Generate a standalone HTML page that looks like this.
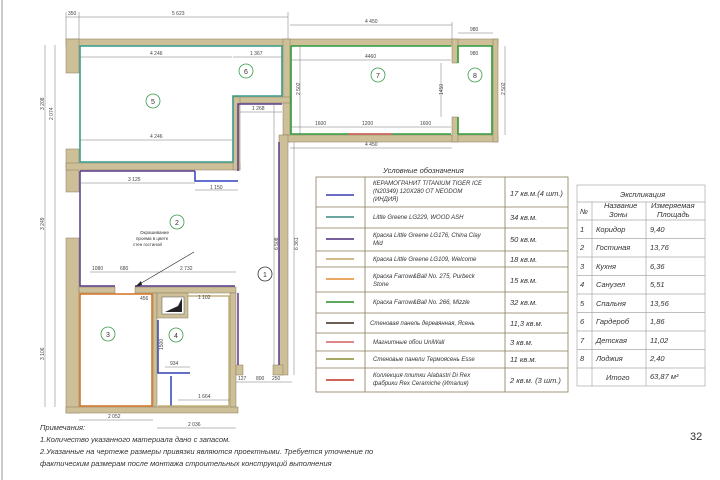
<!DOCTYPE html>
<html><head><meta charset="utf-8"><style>
html,body{margin:0;padding:0;background:#fff;}
svg{display:block;font-family:"Liberation Sans",sans-serif;}
.d{stroke:#777;stroke-width:.5;fill:none}
.t{font-size:5px;fill:#444}
.w{fill:#cdbf98;stroke:#8a7d5c;stroke-width:.5}
.lg{font-size:6px;font-style:italic;fill:#333}
.lq{font-size:7.5px;font-style:italic;fill:#333}
.ex{font-size:7.5px;font-style:italic;fill:#333}
</style></head><body>
<svg width="720" height="480" viewBox="0 0 720 480" xmlns="http://www.w3.org/2000/svg">
<line x1="2" y1="0" x2="2" y2="480" stroke="#999" stroke-width="1"/>
<rect class="w" x="66" y="39" width="432" height="7"/>
<rect class="w" x="66" y="39" width="13" height="34"/>
<rect class="w" x="66" y="149" width="13" height="43"/>
<rect class="w" x="66" y="163" width="174" height="7"/>
<rect class="w" x="283" y="39" width="7" height="103"/>
<rect class="w" x="283" y="135" width="215" height="7"/>
<rect class="w" x="493" y="39" width="5" height="103"/>
<rect class="w" x="452" y="39" width="6" height="24"/>
<rect class="w" x="452" y="117" width="6" height="25"/>
<rect class="w" x="233" y="97" width="57" height="6"/>
<rect class="w" x="233" y="97" width="7" height="73"/>
<rect class="w" x="279" y="135" width="9" height="240"/>
<rect class="w" x="66" y="238" width="13" height="175"/>
<rect class="w" x="79" y="287" width="36" height="6"/>
<rect class="w" x="135" y="287" width="101" height="6"/>
<rect class="w" x="153" y="293" width="4" height="114"/>
<rect class="w" x="157" y="293" width="31" height="25"/>
<rect class="w" x="230" y="293" width="6" height="114"/>
<rect class="w" x="66" y="407" width="172" height="6"/>
<rect class="w" x="236" y="365" width="7" height="10"/>
<rect class="w" x="273" y="365" width="10" height="10"/>
<rect x="162" y="297" width="22" height="17" fill="#fff" stroke="#555" stroke-width=".5"/>
<polygon points="165,312 182,312 182,298 178,306" fill="#222"/>
<path d="M80,46 H282 V96 H233 V162 H80 Z" fill="none" stroke="#3a9a8a" stroke-width="1.6"/>
<path d="M291,46 H451 M291,46 V134 H451 M458,63 V46 H492 V134 H458 V117" fill="none" stroke="#2e9a3a" stroke-width="1.6"/>
<line x1="348" y1="134" x2="392" y2="134" stroke="#e06060" stroke-width="1.6"/>
<path d="M80,171 V286 H115 M135,286 H235 M80,171 H195 M238,171 V104 H282 M279,142 V365 M238,293 V365" fill="none" stroke="#5a3a8a" stroke-width="1.5"/>
<path d="M195,171 V181 H238" fill="none" stroke="#3040c0" stroke-width="1.5"/>
<path d="M80,294 H152 V406 H80 Z" fill="none" stroke="#d07020" stroke-width="1.5"/>
<path d="M158,320 V373 H190 M171,376 V406" fill="none" stroke="#3040b0" stroke-width="1.5"/>
<path d="M188,296 H229 V406 M158,406 H229" fill="none" stroke="#b8a060" stroke-width="1.2"/>
<g class="d">
<line x1="66" y1="17" x2="288" y2="17"/><line x1="66" y1="12" x2="66" y2="39"/><line x1="79" y1="12" x2="79" y2="39"/><line x1="288" y1="12" x2="288" y2="39"/>
<line x1="290" y1="25" x2="452" y2="25"/><line x1="452" y1="22" x2="452" y2="39"/>
<line x1="458" y1="33" x2="493" y2="33"/>
<line x1="80" y1="57" x2="232" y2="57"/><line x1="233" y1="57" x2="282" y2="57"/>
<line x1="80" y1="140" x2="232" y2="140"/>
<line x1="240" y1="112" x2="282" y2="112"/>
<line x1="291" y1="60" x2="451" y2="60"/><line x1="291" y1="127" x2="451" y2="127"/>
<line x1="290" y1="148" x2="452" y2="148"/>
<line x1="45" y1="45" x2="45" y2="407"/><line x1="55" y1="45" x2="55" y2="407"/>
<line x1="80" y1="183" x2="195" y2="183"/><line x1="195" y1="190" x2="238" y2="190"/>
<line x1="90" y1="272" x2="236" y2="272"/>
<line x1="294" y1="142" x2="294" y2="375"/><line x1="274" y1="104" x2="274" y2="365"/>
<line x1="79" y1="420" x2="153" y2="420"/><line x1="157" y1="428" x2="236" y2="428"/>
<line x1="178" y1="400" x2="230" y2="400"/><line x1="165" y1="367" x2="190" y2="367"/>
<line x1="236" y1="382" x2="292" y2="382"/>
<line x1="505" y1="46" x2="505" y2="135"/><line x1="300" y1="46" x2="300" y2="135"/>
<line x1="441" y1="63" x2="441" y2="117"/>
</g>
<g class="t">
<text x="68" y="15">350</text><text x="172" y="15">5 623</text>
<text x="365" y="23">4 450</text><text x="470" y="31">980</text><text x="470" y="55">980</text>
<text x="150" y="55">4 246</text><text x="250" y="55">1 367</text>
<text x="150" y="138">4 246</text><text x="252" y="110">1 268</text>
<text x="365" y="58">4460</text><text x="365" y="146">4 450</text>
<text x="315" y="125">1600</text><text x="362" y="125">1200</text><text x="420" y="125">1600</text>
<text x="128" y="181">3 125</text><text x="210" y="189">1 150</text>
<text x="92" y="270">1080</text><text x="120" y="270">680</text><text x="180" y="270">2 732</text>
<text x="140" y="300">456</text><text x="198" y="299">1 102</text>
<text x="170" y="365">934</text><text x="198" y="398">1 664</text>
<text x="108" y="418">2 052</text><text x="188" y="426">2 036</text>
<text x="238" y="380">127</text><text x="256" y="380">800</text><text x="272" y="380">250</text>
</g>
<g class="t">
<text transform="translate(44,230) rotate(-90)">3 249</text>
<text transform="translate(44,360) rotate(-90)">3 106</text>
<text transform="translate(44,110) rotate(-90)">3 208</text>
<text transform="translate(53,120) rotate(-90)">2 074</text>
<text transform="translate(298,250) rotate(-90)">6 361</text>
<text transform="translate(278,250) rotate(-90)">6 508</text>
<text transform="translate(300,95) rotate(-90)">2 502</text>
<text transform="translate(505,95) rotate(-90)">2 502</text>
<text transform="translate(443,95) rotate(-90)">1450</text>
<text transform="translate(163,350) rotate(-90)">1500</text>
</g>
<text x="140" y="234" font-size="4.5" fill="#333">Окрашивание</text>
<text x="136" y="240" font-size="4.5" fill="#333">проема в цвете</text>
<text x="133" y="246" font-size="4.5" fill="#333">стен гостиной</text>
<line x1="194" y1="252" x2="138" y2="285" stroke="#222" stroke-width=".6"/>
<polygon points="135,287 141,281 142,285" fill="#222"/>
<g fill="none" stroke="#3a9a4a" stroke-width=".8">
<circle cx="153" cy="101" r="7"/><circle cx="246" cy="71" r="7"/><circle cx="378" cy="75" r="7"/><circle cx="475" cy="75" r="7"/>
<circle cx="177" cy="222" r="7"/><circle cx="108" cy="334" r="7"/><circle cx="176" cy="335" r="7"/>
</g>
<circle cx="265" cy="274" r="7" fill="#fff" stroke="#333" stroke-width=".8"/>
<g font-size="7" fill="#333" text-anchor="middle">
<text x="153" y="104">5</text><text x="246" y="74">6</text><text x="378" y="78">7</text><text x="475" y="78">8</text>
<text x="177" y="225">2</text><text x="265" y="277">1</text><text x="108" y="337">3</text><text x="176" y="338">4</text>
</g>
<text x="383" y="173" class="lq" font-size="7">Условные обозначения</text>
<g stroke="#8a7a5a" stroke-width=".8" fill="none">
<rect x="316" y="177" width="252" height="215"/>
<line x1="365" y1="177" x2="365" y2="392"/><line x1="505" y1="177" x2="505" y2="392"/>
<line x1="316" y1="207" x2="568" y2="207"/><line x1="316" y1="228" x2="568" y2="228"/>
<line x1="316" y1="251" x2="568" y2="251"/><line x1="316" y1="267" x2="568" y2="267"/>
<line x1="316" y1="292" x2="568" y2="292"/><line x1="316" y1="313" x2="568" y2="313"/>
<line x1="316" y1="333" x2="568" y2="333"/><line x1="316" y1="351" x2="568" y2="351"/>
<line x1="316" y1="368" x2="568" y2="368"/>
</g>
<g stroke-width="1.6">
<line x1="326" y1="195" x2="354" y2="195" stroke="#3c3cb0"/>
<line x1="326" y1="217" x2="354" y2="217" stroke="#3a8a80"/>
<line x1="326" y1="239" x2="354" y2="239" stroke="#4a2a7a"/>
<line x1="326" y1="259" x2="354" y2="259" stroke="#c0a060"/>
<line x1="326" y1="279" x2="354" y2="279" stroke="#e08a30"/>
<line x1="326" y1="302" x2="354" y2="302" stroke="#2a8a2a"/>
<line x1="326" y1="323" x2="354" y2="323" stroke="#3a2a1a"/>
<line x1="326" y1="342" x2="354" y2="342" stroke="#d06060"/>
<line x1="326" y1="359" x2="354" y2="359" stroke="#8a8a30"/>
<line x1="326" y1="380" x2="354" y2="380" stroke="#c03020"/>
</g>
<g class="lg">
<text x="373" y="185">КЕРАМОГРАНИТ TITANIUM TIGER ICE</text>
<text x="373" y="193">(N20349) 120Х280 ОТ NEODOM</text>
<text x="373" y="201">(ИНДИЯ)</text>
<text x="373" y="219">Little Greene LG229, WOOD ASH</text>
<text x="373" y="237">Краска Little Greene LG176, China Clay</text>
<text x="373" y="245">Mid</text>
<text x="373" y="261">Краска Little Greene LG109, Welcome</text>
<text x="373" y="278">Краска Farrow&amp;Ball No. 275, Purbeck</text>
<text x="373" y="286">Stone</text>
<text x="373" y="304">Краска Farrow&amp;Ball No. 266, Mizzle</text>
<text x="370" y="325">Стеновая панель деревянная, Ясень</text>
<text x="373" y="344">Магнитные обои UniWall</text>
<text x="373" y="361">Стеновые панели Термоясень Esse</text>
<text x="373" y="377">Коллекция плитки Alabastri Di Rex</text>
<text x="373" y="385">фабрики Rex Ceramiche (Италия)</text>
</g>
<g class="lq">
<text x="510" y="196">17 кв.м.(4 шт.)</text>
<text x="510" y="220">34 кв.м.</text>
<text x="510" y="242">50 кв.м.</text>
<text x="510" y="262">18  кв.м.</text>
<text x="510" y="283">15 кв.м.</text>
<text x="510" y="305">32 кв.м.</text>
<text x="510" y="326">11,3 кв.м.</text>
<text x="510" y="345">3 кв.м.</text>
<text x="510" y="362">11 кв.м.</text>
<text x="510" y="383">2 кв.м. (3 шт.)</text>
</g>
<g stroke="#aaa" stroke-width=".7" fill="none">
<rect x="577" y="185" width="128" height="201"/>
<line x1="577" y1="202" x2="705" y2="202"/>
<line x1="592" y1="202" x2="592" y2="386"/><line x1="646" y1="202" x2="646" y2="386"/>
<line x1="577" y1="220" x2="705" y2="220"/><line x1="577" y1="238.5" x2="705" y2="238.5"/>
<line x1="577" y1="257" x2="705" y2="257"/><line x1="577" y1="275.5" x2="705" y2="275.5"/>
<line x1="577" y1="294" x2="705" y2="294"/><line x1="577" y1="312.5" x2="705" y2="312.5"/>
<line x1="577" y1="331" x2="705" y2="331"/><line x1="577" y1="349.5" x2="705" y2="349.5"/>
<line x1="577" y1="368" x2="705" y2="368"/>
</g>
<g class="ex">
<text x="620" y="197">Экспликация</text>
<text x="580" y="214">№</text>
<text x="604" y="208">Название</text><text x="609" y="217">Зоны</text>
<text x="651" y="208">Измеряемая</text><text x="657" y="217">Площадь</text>
<text x="580" y="232">1</text><text x="596" y="232">Коридор</text><text x="650" y="232">9,40</text>
<text x="580" y="250">2</text><text x="596" y="250">Гостиная</text><text x="650" y="250">13,76</text>
<text x="580" y="269">3</text><text x="596" y="269">Кухня</text><text x="650" y="269">6,36</text>
<text x="580" y="287">4</text><text x="596" y="287">Санузел</text><text x="650" y="287">5,51</text>
<text x="580" y="306">5</text><text x="596" y="306">Спальня</text><text x="650" y="306">13,56</text>
<text x="580" y="324">6</text><text x="596" y="324">Гардероб</text><text x="650" y="324">1,86</text>
<text x="580" y="343">7</text><text x="596" y="343">Детская</text><text x="650" y="343">11,02</text>
<text x="580" y="361">8</text><text x="596" y="361">Лоджия</text><text x="650" y="361">2,40</text>
<text x="606" y="380">Итого</text><text x="650" y="379">63,87 м²</text>
</g>
<g font-size="7.5" font-style="italic" fill="#333">
<text x="40" y="430">Примечания:</text>
<text x="40" y="442">1.Количество указанного материала дано с запасом.</text>
<text x="40" y="454">2.Указанные на чертеже размеры привязки являются проектными. Требуется уточнение по</text>
<text x="40" y="466">фактическим размерам после монтажа строительных конструкций выполнения</text>
</g>
<text x="690" y="440" font-size="11" fill="#333">32</text>
</svg>
</body></html>
